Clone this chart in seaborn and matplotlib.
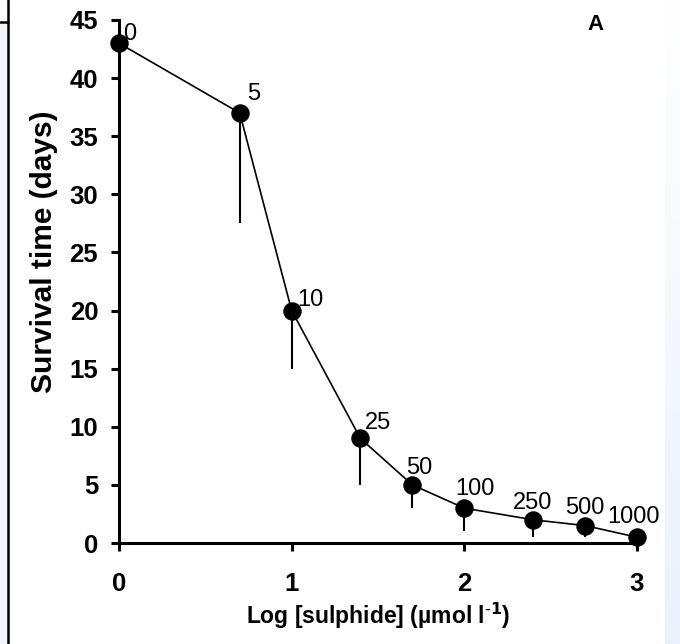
import numpy as np
import pandas as pd
import matplotlib
matplotlib.use("Agg")
import matplotlib.pyplot as plt
import seaborn as sns

# Sulphide concentrations (µmol l-1), mean survival and lower error
concentration = [0, 5, 10, 25, 50, 100, 250, 500, 1000]
survival_days = [43, 37, 20, 9, 5, 3, 2, 1.5, 0.5]
lower_error = [0, 9.5, 5, 4, 2, 2, 1.5, 1, 0.5]

x_ticks = [0, 1, 2, 3]
y_ticks = [0, 5, 10, 15, 20, 25, 30, 35, 40, 45]

log_conc = [np.log10(c) if c > 0 else 0.0 for c in concentration]
df = pd.DataFrame({"log_conc": log_conc, "survival": survival_days,
                   "err": lower_error, "label": [str(c) for c in concentration]})

sns.set_theme(style="ticks")
plt.rcParams["font.family"] = ["Liberation Sans", "DejaVu Sans"]
plt.rcParams.update({"text.color": "black", "axes.labelcolor": "black",
                     "xtick.color": "black", "ytick.color": "black",
                     "axes.edgecolor": "black"})

fig = plt.figure(figsize=(6.8, 6.44), dpi=100)
fig.patch.set_facecolor("white")

# soft tinted page edges
bg = fig.add_axes([0, 0, 1, 1], zorder=-10)
bg.set_xlim(0, 680)
bg.set_ylim(644, 0)
bg.axis("off")
grad = np.linspace(0, 1, 256)
tint = np.ones((256, 1, 3))
tint[:, 0, 0] = 1 - 0.08 * grad
tint[:, 0, 1] = 1 - 0.055 * grad
tint[:, 0, 2] = 1 - 0.012 * grad
bg.imshow(tint, extent=[665, 680, 644, 0], aspect="auto")
bg.imshow(np.ones((2, 2, 3)) * np.array([0.95, 0.965, 0.99]), extent=[0, 8, 644, 22], aspect="auto")
bg.plot([8, 8], [0, 644], color="black", lw=1.8)
bg.plot([0, 8], [22, 22], color="black", lw=1.8)

ax = fig.add_axes([0.175, 0.1568, 0.7618, 0.8122])
ax.set_facecolor("none")

ax.errorbar(df["log_conc"], df["survival"], yerr=[df["err"], np.zeros(len(df))],
            fmt="none", ecolor="black", elinewidth=1.5, capsize=0, zorder=2, clip_on=False)
sns.lineplot(data=df, x="log_conc", y="survival", ax=ax, color="black", linewidth=1.2,
             marker="o", markersize=12.5, markeredgecolor="black", markerfacecolor="black",
             zorder=3, clip_on=False, sort=False)

# concentration labels beside each point (offsets in points)
offsets = [(3, 2), (5, 9), (4, 3.5), (3, 6.5), (-4.3, 8), (-6.5, 9.5),
           (-14.4, 8), (-14.4, 8.6), (-21.5, 10)]
for (xv, yv, lab), (dx, dy) in zip(zip(df["log_conc"], df["survival"], df["label"]), offsets):
    ax.annotate(lab, (xv, yv), xytext=(dx, dy), textcoords="offset points",
                ha="left", va="baseline", fontsize=17, color="black")

ax.set_xlim(0, 3)
ax.set_ylim(0, 45)
ax.set_xticks(x_ticks)
ax.set_yticks(y_ticks)
ax.set_xticklabels([str(t) for t in x_ticks], fontweight="bold", fontsize=18.5)
ax.set_yticklabels([str(t) for t in y_ticks], fontweight="bold", fontsize=18.5)
ax.tick_params(axis="both", direction="out", length=6, width=2.2, color="black")
ax.tick_params(axis="x", pad=15)
ax.tick_params(axis="y", pad=9)
for side in ("top", "right"):
    ax.spines[side].set_visible(False)
for side in ("left", "bottom"):
    ax.spines[side].set_linewidth(2.2)
    ax.spines[side].set_color("black")

ax.set_xlabel("Log [sulphide] (µmol l$^{\\mathbf{\\text{-}1}}$)", fontweight="bold",
              fontsize=16.5, labelpad=3)
ax.set_ylabel("Survival time (days)", fontweight="bold", fontsize=21.5)
ax.yaxis.set_label_coords(-0.118, 0.556)
ax.text(0.92, 1.012, "A", transform=ax.transAxes, fontweight="bold", fontsize=16,
        ha="center", va="top")

fig.savefig("out.png", dpi=100)
